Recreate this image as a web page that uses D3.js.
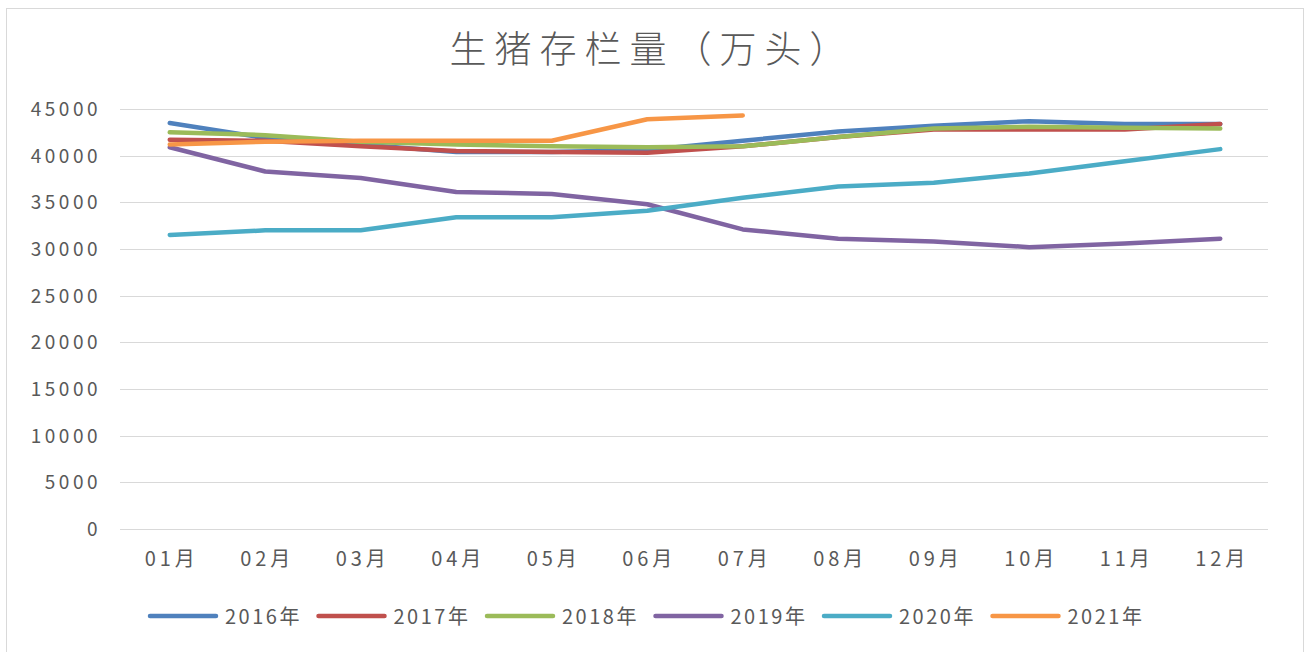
<!DOCTYPE html>
<html>
<head>
<meta charset="utf-8">
<script src="https://cdn.jsdelivr.net/npm/d3@7"></script>
<style>
  body { margin: 0; background: #fff; }
  svg { display: block; }
  text { font-family: "Noto Sans CJK SC", "Noto Sans", sans-serif; fill: #595959; }
</style>
</head>
<body>
<script>
const months = ['01月', '02月', '03月', '04月', '05月', '06月', '07月', '08月', '09月', '10月', '11月', '12月'];
const years = ['2016年', '2017年', '2018年', '2019年', '2020年', '2021年'];
const colors = ['#4F81BD', '#C0504D', '#9BBB59', '#8064A2', '#4BACC6', '#F79646'];
const yTicks = [0, 5000, 10000, 15000, 20000, 25000, 30000, 35000, 40000, 45000];

const v2016 = [43500, 41900, 41200, 40400, 40400, 40600, 41600, 42600, 43200, 43700, 43400, 43400];
const v2017 = [41700, 41600, 41000, 40500, 40400, 40300, 41000, 42000, 42800, 42800, 42800, 43400];
const v2018 = [42500, 42200, 41500, 41200, 41000, 40900, 41000, 42000, 42900, 43100, 43000, 42900];
const v2019 = [40900, 38300, 37600, 36100, 35900, 34800, 32100, 31100, 30800, 30200, 30600, 31100];
const v2020 = [31500, 32000, 32000, 33400, 33400, 34100, 35500, 36700, 37100, 38100, 39400, 40700];
const v2021 = [41200, 41500, 41600, 41600, 41600, 43900, 44300];

const series = [v2016, v2017, v2018, v2019, v2020, v2021];

const width = 1309;
const height = 652;

const svg = d3.select('body').append('svg')
  .attr('width', width)
  .attr('height', height);

// chart frame
svg.append('rect')
  .attr('x', 6.5).attr('y', 8.5)
  .attr('width', 1297).attr('height', 660)
  .attr('fill', 'none')
  .attr('stroke', '#d9d9d9');

svg.append('text')
  .attr('x', 652).attr('y', 63)
  .attr('text-anchor', 'middle')
  .style('font-size', '37px')
  .style('font-weight', 300)
  .style('letter-spacing', '8px')
  .text('生猪存栏量（万头）');

const x = d3.scaleBand()
  .domain(months)
  .range([122, 1268]);

const y = d3.scaleLinear()
  .domain([0, 45000])
  .range([529, 109]);

// gridlines
svg.append('g')
  .selectAll('line')
  .data(yTicks)
  .join('line')
  .attr('x1', 120).attr('x2', 1268)
  .attr('y1', d => Math.round(y(d)) + 0.5)
  .attr('y2', d => Math.round(y(d)) + 0.5)
  .attr('stroke', '#d9d9d9')
  .attr('stroke-width', 1);

// y labels
svg.append('g')
  .selectAll('text')
  .data(yTicks)
  .join('text')
  .attr('x', 101)
  .attr('y', d => y(d) + 7)
  .attr('text-anchor', 'end')
  .style('font-size', '19px')
  .style('letter-spacing', '3.5px')
  .text(d => d);

// x labels
svg.append('g')
  .selectAll('text')
  .data(months)
  .join('text')
  .attr('x', d => x(d) + x.bandwidth() / 2 + 2)
  .attr('y', 566)
  .attr('text-anchor', 'middle')
  .style('font-size', '20px')
  .style('letter-spacing', '4px')
  .text(d => d);

const line = d3.line()
  .x((d, i) => x(months[i]) + x.bandwidth() / 2)
  .y(d => y(d));

svg.append('g')
  .selectAll('path')
  .data(series)
  .join('path')
  .attr('d', line)
  .attr('fill', 'none')
  .attr('stroke', (d, i) => colors[i])
  .attr('stroke-width', 4.5)
  .attr('stroke-linejoin', 'round')
  .attr('stroke-linecap', 'round');

// legend
const legend = svg.append('g')
  .selectAll('g')
  .data(years)
  .join('g')
  .attr('transform', (d, i) => `translate(${150 + i * 168.5},616)`);

legend.append('line')
  .attr('x1', 0).attr('x2', 66)
  .attr('y1', 0).attr('y2', 0)
  .attr('stroke', (d, i) => colors[i])
  .attr('stroke-width', 4.5)
  .attr('stroke-linecap', 'round');

legend.append('text')
  .attr('x', 75)
  .attr('y', 8)
  .style('font-size', '20px')
  .style('letter-spacing', '2.5px')
  .text(d => d);
</script>
</body>
</html>
